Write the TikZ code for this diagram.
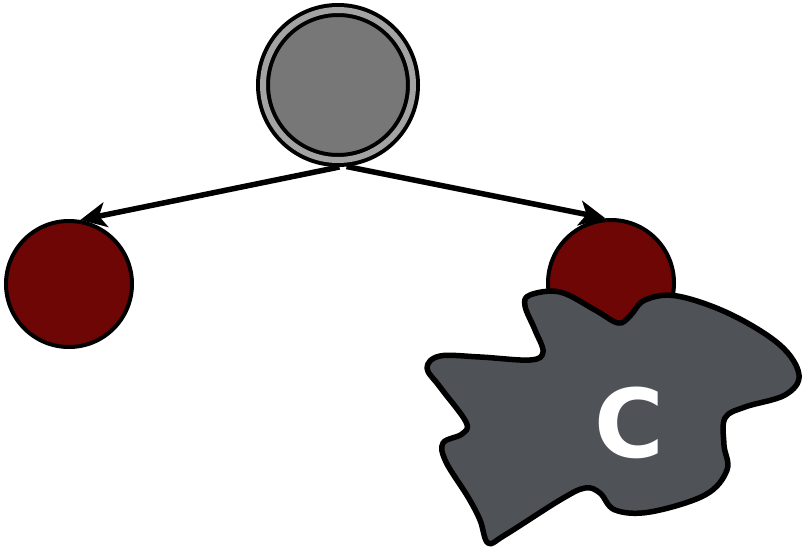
\documentclass[tikz,border=0pt]{standalone}
\usepackage{fontspec}
\newfontfamily\labelfont{DejaVu Sans}
\usetikzlibrary{positioning,arrows.meta,shapes}
\definecolor{ringgray}{HTML}{A3A3A3}
\definecolor{coregray}{HTML}{777777}
\definecolor{leafred}{HTML}{6F0606}
\definecolor{blobgray}{HTML}{4F5257}

\begin{document}
\begin{tikzpicture}[x=1pt,y=-1pt]

				\tikzstyle{leaf}=[circle,draw=black,fill=leafred,line width=4pt,inner sep=0pt,minimum size=126pt]
				\tikzstyle{edge}=[line width=5.5pt,-{Stealth[length=26pt,width=25pt,inset=7pt]}]
				\useasboundingbox (0,0) rectangle (806,554);

				\node[circle,draw=black,fill=coregray,double=ringgray,double distance=6pt,line width=4pt,inner sep=0pt,outer sep=7pt,minimum size=150pt] (root) at (338,85) {};
				\node[leaf] (leftleaf) at (69,284) {};
				\node[leaf] (rightleaf) at (611,283) {};

				\draw[edge] (root.271) -- (leftleaf.80);
				\draw[edge] (root.276) -- (rightleaf.95);

				% the blob over the right leaf
				\draw[line width=5.5pt,fill=blobgray,line join=round] plot[smooth cycle,tension=0.6] coordinates {
					(530,295) (560,292) (595,310) (618,323) (630,316) (645,300) (677,296)
					(730,314) (780,345) (799,375) (785,395) (745,407) (725,418) (724,445)
					(727,470) (705,495) (650,512) (615,510) (600,493) (585,488) (560,500)
					(505,535) (488,543) (480,520) (468,497) (446,462) (443,443) (462,434)
					(466,422) (440,387) (427,368) (440,356) (480,357) (530,360) (543,352)
					(535,330) (525,306)};
				\node[text=white,font=\labelfont\bfseries\fontsize{95}{95}\selectfont] (blobc) at (629.5,422.5) {C};

			\end{tikzpicture}
\end{document}
